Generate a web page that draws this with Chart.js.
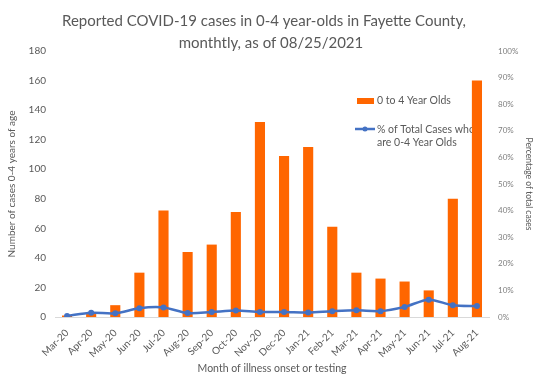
<!DOCTYPE html>
<html>
<head>
<meta charset="utf-8">
<script src="https://cdn.jsdelivr.net/npm/chart.js@4.4.1/dist/chart.umd.min.js"></script>
<style>
  html, body { margin: 0; padding: 0; background: #fff; }
  #canvas { display: block; }
</style>
</head>
<body>
<canvas id="canvas" width="538" height="384"></canvas>
<script>
// data
const meses = ['Mar-20','Apr-20','May-20','Jun-20','Jul-20','Aug-20','Sep-20','Oct-20','Nov-20','Dec-20',
               'Jan-21','Feb-21','Mar-21','Apr-21','May-21','Jun-21','Jul-21','Aug-21'];
const casos = [1, 2, 8, 30, 72, 44, 49, 71, 132, 109, 115, 61, 30, 26, 24, 18, 80, 160];
const percentual = [0.4, 1.6, 1.4, 3.3, 3.6, 1.5, 1.9, 2.4, 1.9, 1.9, 1.7, 2.2, 2.5, 2.2, 3.8, 6.5, 4.4, 4.1];
const tituloLinhas = ['Reported COVID-19 cases in 0-4 year-olds in Fayette County,', 'monthtly, as of 08/25/2021'];
const nomeBarras = '0 to 4 Year Olds';
const nomeLinha = ['% of Total Cases who', 'are 0-4 Year Olds'];

const laranja = '#FF6600';
const azul = '#4472C4';
const cinza = '#595959';
const fonte = 'Lato, "Liberation Sans", sans-serif';

// title drawn by hand so it can sit beside the top tick labels
const tituloPlugin = {
    id: 'tituloPlugin',
    afterDraw(chart) {
        let ctx = chart.ctx;
        ctx.save();
        ctx.font = '15px ' + fonte;
        ctx.fillStyle = cinza;
        ctx.textAlign = 'center';
        ctx.textBaseline = 'middle';
        ctx.fillText(tituloLinhas[0], 264, 21);
        ctx.fillText(tituloLinhas[1], 271, 43);
        ctx.restore();
    }
};

// legend inside the plot, behind the bars
const legendaPlugin = {
    id: 'legendaPlugin',
    beforeDatasetsDraw(chart) {
        let ctx = chart.ctx;
        ctx.save();
        ctx.fillStyle = laranja;
        ctx.fillRect(357, 98, 17, 6);
        ctx.strokeStyle = azul;
        ctx.lineWidth = 2.5;
        ctx.beginPath();
        ctx.moveTo(355, 129);
        ctx.lineTo(375, 129);
        ctx.stroke();
        ctx.fillStyle = azul;
        ctx.beginPath();
        ctx.arc(365, 129, 2.5, 0, Math.PI * 2);
        ctx.fill();
        ctx.font = '10.5px ' + fonte;
        ctx.fillStyle = cinza;
        ctx.textAlign = 'left';
        ctx.textBaseline = 'middle';
        ctx.fillText(nomeBarras, 377, 101);
        ctx.fillText(nomeLinha[0], 377, 130);
        ctx.fillText(nomeLinha[1], 377, 143);
        ctx.restore();
    }
};

let ctx = document.getElementById('canvas').getContext('2d');
let grafico = new Chart(ctx, {
    type: 'bar',
    data: {
        labels: meses,
        datasets: [
            {
                type: 'line',
                label: nomeLinha.join(' '),
                data: percentual,
                yAxisID: 'y1',
                borderColor: azul,
                backgroundColor: azul,
                borderWidth: 2.5,
                pointRadius: 3,
                pointBackgroundColor: azul,
                pointBorderWidth: 0,
                tension: 0.3,
                order: 0
            },
            {
                type: 'bar',
                label: nomeBarras,
                data: casos,
                yAxisID: 'y',
                backgroundColor: laranja,
                barPercentage: 0.42,
                categoryPercentage: 1,
                order: 1
            }
        ]
    },
    options: {
        responsive: false,
        animation: false,
        devicePixelRatio: 1,
        layout: { padding: { top: 51, left: 0, right: 0, bottom: 0 } },
        plugins: {
            legend: { display: false },
            title: { display: false },
            tooltip: { enabled: false }
        },
        scales: {
            x: {
                grid: { display: false },
                border: { color: '#D9D9D9' },
                ticks: {
                    color: cinza,
                    font: { family: fonte, size: 10 },
                    minRotation: 45,
                    maxRotation: 45,
                    autoSkip: false,
                    padding: 2
                },
                title: {
                    display: true,
                    text: 'Month of illness onset or testing',
                    color: cinza,
                    font: { family: fonte, size: 10.5 },
                    padding: { top: 0, bottom: 9 }
                },
                afterFit(scale) { scale.height = 67; }
            },
            y: {
                position: 'left',
                min: 0,
                max: 180,
                grid: { display: false },
                border: { display: false },
                ticks: {
                    stepSize: 20,
                    color: cinza,
                    font: { family: fonte, size: 10 },
                    padding: 1
                },
                title: {
                    display: true,
                    text: 'Number of cases 0-4 years of age',
                    color: cinza,
                    font: { family: fonte, size: 10 },
                    padding: { top: 6, bottom: 0 }
                },
                afterFit(scale) { scale.width = 55; }
            },
            y1: {
                position: 'right',
                min: 0,
                max: 100,
                grid: { display: false },
                border: { display: false },
                ticks: {
                    stepSize: 10,
                    color: '#7F7F7F',
                    font: { family: fonte, size: 8 },
                    padding: 1,
                    callback: function (v) { return v + '%'; }
                },
                title: {
                    display: true,
                    text: 'Percentage of total cases',
                    color: cinza,
                    font: { family: fonte, size: 8.5 },
                    padding: { top: 4, bottom: 0 }
                },
                afterFit(scale) { scale.width = 49; }
            }
        }
    },
    plugins: [tituloPlugin, legendaPlugin]
});
</script>
</body>
</html>
